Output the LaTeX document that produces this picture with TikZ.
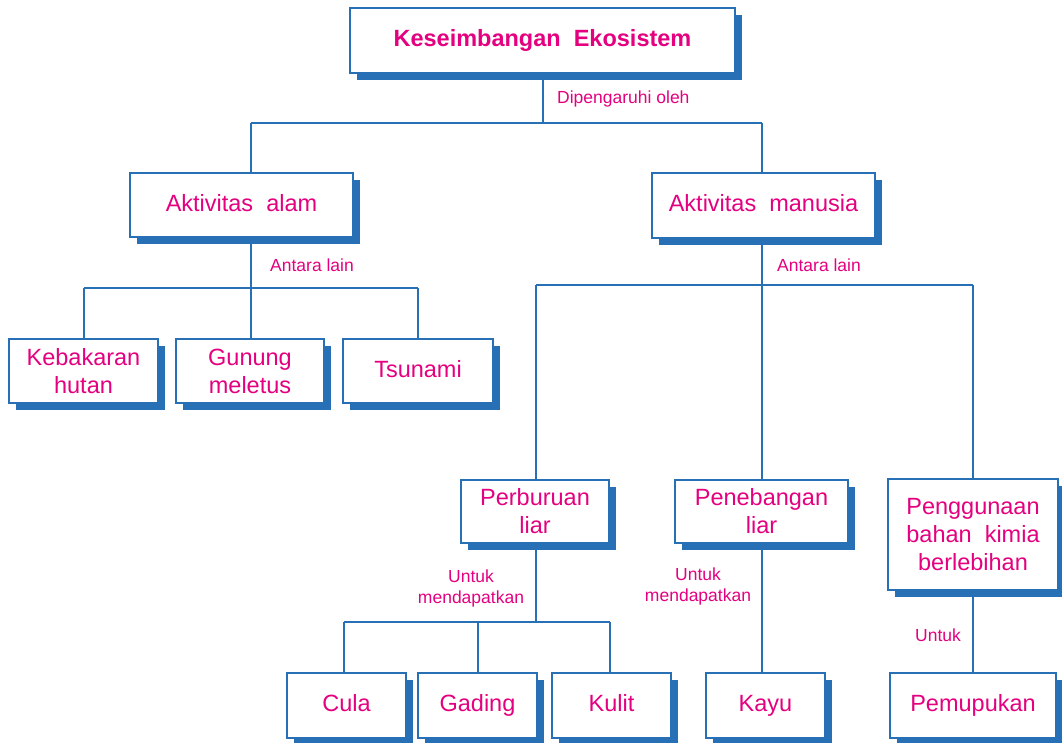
\documentclass[tikz,border=0pt]{standalone}
\usepackage{fontspec}
\setmainfont{Liberation Sans}
\usetikzlibrary{shadows}
\definecolor{cblue}{RGB}{40,112,182}
\definecolor{cmag}{RGB}{228,0,127}
\begin{document}
\begin{tikzpicture}[x=1pt,y=-1pt,
  box/.style={draw=cblue, line width=2pt, fill=white, text=cmag, align=center,
    inner sep=0pt, font=\fontsize{23.5}{28}\selectfont,
    drop shadow={shadow xshift=7pt, shadow yshift=-7pt, fill=cblue, opacity=1}},
  one/.style={text height=17pt, text depth=5pt},
  conn/.style={draw=cblue, line width=2pt},
  lab/.style={text=cmag, font=\fontsize{17.5}{21}\selectfont, inner sep=0pt, align=center}]
\useasboundingbox (0,0) rectangle (1062,742);

% junction coordinates
\coordinate (j1) at (542.5,123);
\coordinate (j1a) at (251,123);
\coordinate (j1b) at (762,123);
\coordinate (j2) at (251,288);
\coordinate (j2a) at (84,288);
\coordinate (j2b) at (418,288);
\coordinate (j3) at (762,285);
\coordinate (j3a) at (536,285);
\coordinate (j3b) at (973,285);
\coordinate (j4) at (536,622);
\coordinate (j4a) at (344,622);
\coordinate (j4b) at (610,622);

% connectors (drawn first)
\draw[conn] (j1a) -- (j1b);
\draw[conn] (j2a) -- (j2b);
\draw[conn] (j3a) -- (j3b);
\draw[conn] (j4a) -- (j4b);

% nodes
\node[box, one, minimum width=385pt, minimum height=65pt, font=\fontsize{23.5}{28}\selectfont\bfseries] (top) at (542.5,40.5) {Keseimbangan~ Ekosistem};
\node[box, one, minimum width=223pt, minimum height=64pt] (alam) at (241.5,205) {Aktivitas~ alam};
\node[box, one, minimum width=223pt, minimum height=65pt] (manusia) at (763.5,205.5) {Aktivitas~ manusia};
\node[box, minimum width=149pt, minimum height=64pt] (kebakaran) at (83.5,371) {Kebakaran\\hutan};
\node[box, minimum width=148pt, minimum height=64pt] (gunung) at (250,371) {Gunung\\meletus};
\node[box, one, minimum width=150pt, minimum height=64pt] (tsunami) at (418,371) {Tsunami};
\node[box, minimum width=148pt, minimum height=63pt] (perburuan) at (535,511.5) {Perburuan\\liar};
\node[box, minimum width=173pt, minimum height=63pt] (penebangan) at (761.5,511.5) {Penebangan\\liar};
\node[box, minimum width=170pt, minimum height=111pt] (penggunaan) at (973,534.5) {Penggunaan\\bahan~ kimia\\berlebihan};
\node[box, one, minimum width=119pt, minimum height=65pt] (cula) at (346.5,705) {Cula};
\node[box, one, minimum width=119pt, minimum height=65pt] (gading) at (477.5,705) {Gading};
\node[box, one, minimum width=119pt, minimum height=65pt] (kulit) at (611.5,705) {Kulit};
\node[box, one, minimum width=119pt, minimum height=65pt] (kayu) at (765.5,705) {Kayu};
\node[box, one, minimum width=166pt, minimum height=65pt] (pemupukan) at (973,705) {Pemupukan};

% vertical connectors
\draw[conn] (top.south) -- (j1);
\draw[conn] (j1a) -- (j1a |- alam.north);
\draw[conn] (j1b) -- (j1b |- manusia.north);
\draw[conn] (j2 |- alam.south) -- (j2);
\draw[conn] (j2a) -- (j2a |- kebakaran.north);
\draw[conn] (j2) -- (j2 |- gunung.north);
\draw[conn] (j2b) -- (j2b |- tsunami.north);
\draw[conn] (j3 |- manusia.south) -- (j3);
\draw[conn] (j3a) -- (j3a |- perburuan.north);
\draw[conn] (j3) -- (j3 |- penebangan.north);
\draw[conn] (j3b) -- (j3b |- penggunaan.north);
\draw[conn] (j4 |- perburuan.south) -- (j4);
\draw[conn] (j4a) -- (j4a |- cula.north);
\draw[conn] (gading.north |- j4) -- (gading.north);
\draw[conn] (j4b) -- (j4b |- kulit.north);
\draw[conn] (j3 |- penebangan.south) -- (j3 |- kayu.north);
\draw[conn] (j3b |- penggunaan.south) -- (j3b |- pemupukan.north);

% labels
\node[lab, anchor=west] (l1) at (557,99) {Dipengaruhi oleh};
\node[lab, anchor=west] (l2) at (270,265) {Antara lain};
\node[lab, anchor=west] (l3) at (777,265) {Antara lain};
\node[lab] (l4) at (471,588) {Untuk\\mendapatkan};
\node[lab] (l5) at (698,586) {Untuk\\mendapatkan};
\node[lab] (l6) at (938,635) {Untuk};
\end{tikzpicture}
\end{document}
